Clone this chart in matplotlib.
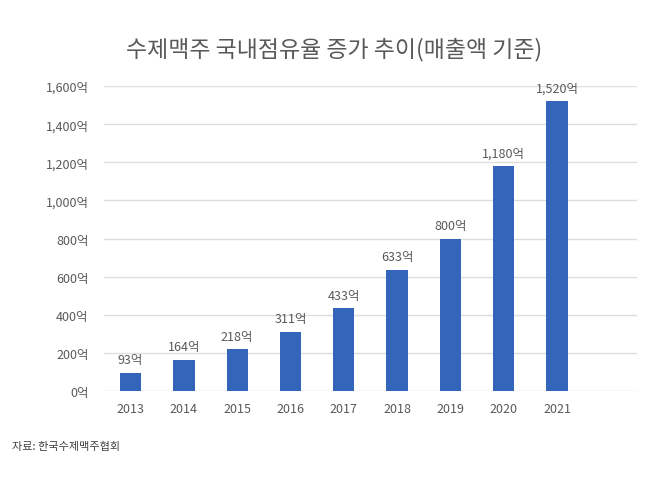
import matplotlib
matplotlib.use("Agg")
import matplotlib.pyplot as plt

plt.rcParams['font.family'] = ['Noto Sans CJK KR', 'DejaVu Sans']

years = ['2013', '2014', '2015', '2016', '2017', '2018', '2019', '2020', '2021', '']
sales = [93, 164, 218, 311, 433, 633, 800, 1180, 1520, 0]
yticks = [0, 200, 400, 600, 800, 1000, 1200, 1400, 1600]

textColor = '#595959'
barColor = '#3366bb'

fig = plt.figure(figsize=(6.56, 4.81), dpi=100)
ax = fig.add_axes([0.1585, 0.185, 0.8125, 0.634])

pos = list(range(len(years)))
n = len(years) - 1
ax.bar(pos[:n], sales[:n], width=0.4, color=barColor, zorder=3)
for i in range(n):
    ax.annotate(f"{sales[i]:,}억", (pos[i], sales[i]), xytext=(0, 5), textcoords='offset points',
                ha='center', va='bottom', fontsize=9, color=textColor)

ax.set_xlim(-0.5, len(years) - 0.5)
ax.set_ylim(0, 1600)
ax.set_yticks(yticks)
ax.set_yticklabels([f"{v:,}억" for v in yticks])
ax.set_xticks(pos)
ax.set_xticklabels(years)
ax.tick_params(length=0, colors=textColor, labelsize=9)
ax.tick_params(axis='y', pad=11)
ax.tick_params(axis='x', pad=8)
ax.grid(axis='y', color='#dedede', linewidth=1, zorder=0)
for s in ax.spines.values():
    s.set_visible(False)

fig.text(0.51, 0.897, '수제맥주 국내점유율 증가 추이(매출액 기준)', ha='center', va='center',
         fontsize=16.5, color=textColor)
fig.text(0.018, 0.07, '자료: 한국수제맥주협회', ha='left', va='center', fontsize=8, color='#404040')

fig.savefig('out.png', dpi=100)
